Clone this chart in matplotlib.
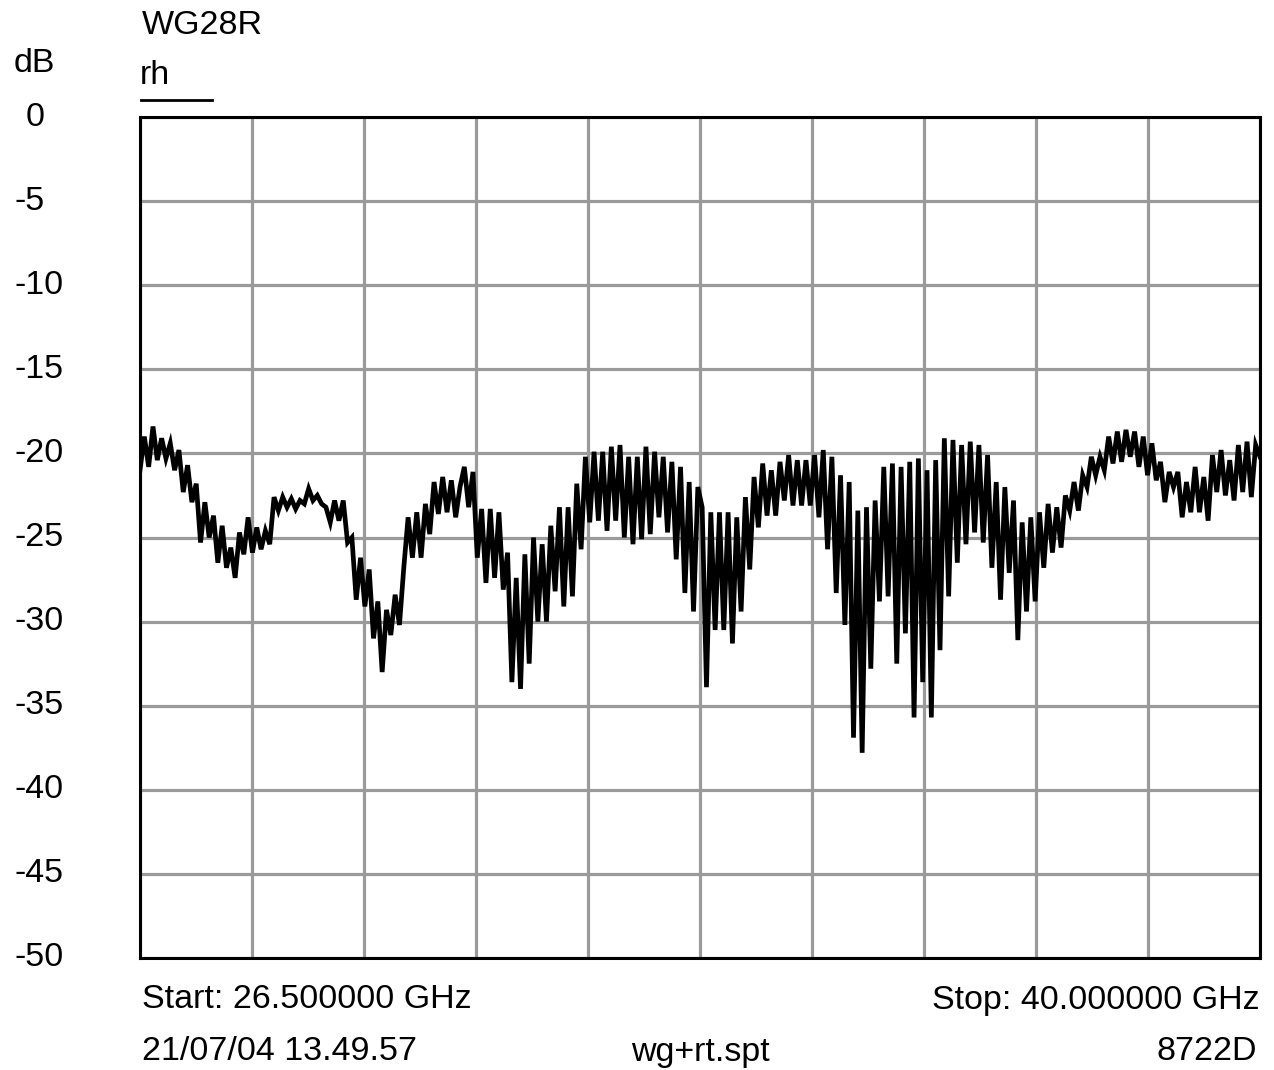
import numpy as np
import matplotlib.pyplot as plt
from matplotlib.lines import Line2D
from matplotlib.transforms import blended_transform_factory

plt.rcParams['font.family'] = ['Liberation Sans', 'DejaVu Sans']

# sweep limits (GHz) and display scale (dB)
f_start = 26.5
f_stop = 40.0
ref_top = 0
ref_bottom = -50
db_ticks = [0, -5, -10, -15, -20, -25, -30, -35, -40, -45, -50]

# measured trace, dB, evenly spaced over the sweep
s11 = [
    -21.0, -19.0, -20.8, -18.4, -20.4, -19.1, -20.3, -19.4, -21.0, -19.8,
    -22.3, -20.7, -22.9, -21.8, -25.3, -22.9, -25.0, -23.7, -26.5, -24.3,
    -26.8, -25.6, -27.4, -24.7, -26.0, -23.8,
    -25.9, -24.4, -25.7, -24.6, -25.4, -22.6, -23.4, -22.6, -23.2, -22.7,
    -23.3, -22.8, -23.0, -22.1, -22.8, -22.5, -23.0, -23.2, -24.1, -22.8,
    -24.0, -22.8, -25.3, -25.0, -28.7, -26.2,
    -29.1, -26.9, -31.0, -28.8, -33.0, -29.3, -30.8, -28.4, -30.2, -26.8,
    -23.8, -26.2, -23.5, -26.2, -23.0, -24.8, -21.7, -23.6, -21.4, -23.5,
    -21.6, -23.8, -22.0, -20.8, -23.2, -21.1,
    -26.2, -23.3, -27.7, -23.3, -27.4, -23.5, -28.1, -25.9, -33.6, -27.4,
    -34.0, -26.0, -32.5, -25.0, -30.0, -25.4, -30.0, -24.3, -28.2, -23.2,
    -29.1, -23.2, -28.5, -21.8, -25.7, -20.2,
    -24.1, -19.9, -24.0, -19.9, -24.6, -19.6, -24.0, -19.5, -25.0, -20.2,
    -25.4, -20.2, -25.1, -19.6, -24.8, -19.9, -23.8, -20.2, -24.7, -20.5,
    -26.3, -20.8, -28.3, -21.7, -29.4, -22.0,
    -23.2, -33.9, -23.5, -30.5, -23.5, -30.5, -23.5, -31.3, -23.8, -29.4,
    -22.6, -26.9, -21.4, -24.4, -20.6, -23.7, -21.0, -23.7, -20.5, -22.8,
    -20.1, -23.1, -20.4, -23.1, -20.4, -23.1,
    -20.1, -23.8, -19.8, -25.7, -20.2, -28.3, -21.3, -30.2, -21.7, -36.9,
    -23.4, -37.8, -23.2, -32.8, -22.8, -28.8, -20.8, -28.5, -20.6, -32.5,
    -20.8, -30.7, -20.5, -35.7, -20.3, -33.6,
    -21.0, -35.7, -20.4, -31.7, -19.1, -28.5, -19.2, -26.5, -19.5, -25.4,
    -19.3, -24.7, -19.5, -25.3, -20.1, -26.8, -21.7, -28.7, -22.0, -27.1,
    -22.8, -31.1, -24.1, -29.4, -23.8, -28.8,
    -23.5, -26.8, -23.0, -25.9, -23.2, -25.6, -22.5, -23.4, -21.7, -23.4,
    -21.3, -22.0, -20.2, -21.3, -20.2, -21.0, -19.0, -20.6, -18.7, -20.5,
    -18.6, -20.2, -18.7, -20.8, -19.0, -21.3,
    -19.4, -21.6, -20.5, -22.9, -21.1, -22.0, -21.1, -23.8, -21.7, -23.5,
    -20.8, -23.5, -21.4, -24.0, -20.1, -22.3, -19.8, -22.5, -20.4, -22.8,
    -19.5, -22.3, -19.3, -22.6, -19.5, -20.2,
]
freq = np.linspace(f_start, f_stop, len(s11))

fig = plt.figure(figsize=(12.74, 10.70), dpi=100)
W, H = 1274, 1070
ax = fig.add_axes([140 / W, 1 - 958 / H, 1120 / W, 841 / H])

ax.plot(freq, s11, color='black', lw=3.4, solid_joinstyle='miter')
ax.set_xlim(f_start, f_stop)
ax.set_ylim(ref_bottom, ref_top)

ax.set_xticks(np.linspace(f_start, f_stop, 11))
ax.set_yticks(db_ticks)
ax.tick_params(length=0, labelbottom=False, labelleft=False)
ax.grid(True, color='#9a9a9a', lw=2.3)
ax.set_axisbelow(True)
for sp in ax.spines.values():
    sp.set_color('black')
    sp.set_linewidth(2.2)

fs = 24.5
# dB scale labels on the left
tr = blended_transform_factory(fig.transFigure, ax.transData)
for v in db_ticks:
    x0 = 26 if v == 0 else 14
    ax.text(x0 / W, v, str(v), transform=tr, ha='left', va='center',
            fontsize=fs, clip_on=False)

def put(x, y, s, ha='left'):
    fig.text(x / W, 1 - y / H, s, ha=ha, va='center', fontsize=fs)

put(142, 25, 'WG28R')
put(14, 64, 'dB')
put(140, 75, 'rh')
fig.add_artist(Line2D([141 / W, 212 / W], [1 - 100 / H, 1 - 100 / H],
                      color='black', lw=2.0))

put(142, 1000, 'Start: 26.500000 GHz')
put(1260, 1000, 'Stop: 40.000000 GHz', ha='right')
put(142, 1052, '21/07/04 13.49.57')
put(700, 1052, 'wg+rt.spt', ha='center')
put(1257, 1052, '8722D', ha='right')

fig.savefig('out.png', dpi=100)
